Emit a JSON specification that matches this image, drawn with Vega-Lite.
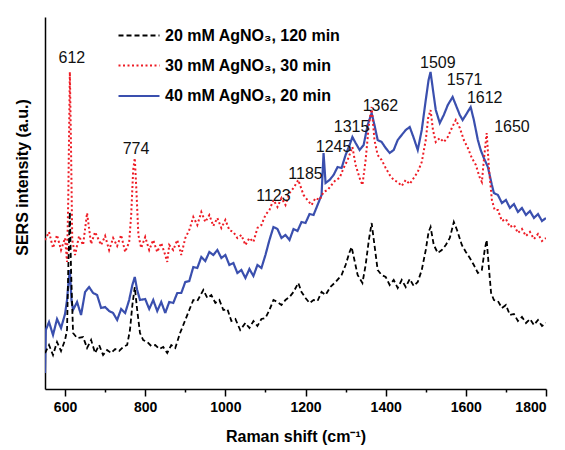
{
  "$schema": "https://vega.github.io/schema/vega-lite/v6.json",
  "width": 501,
  "height": 372,
  "autosize": {"type": "none"},
  "padding": {"left": 45, "top": 17, "right": 19, "bottom": 61},
  "config": {
    "font": "Liberation Sans",
    "view": {"stroke": null},
    "axis": {"grid": false}
  },
  "datasets": {
    "spectra": [
      {"w":550,"v":16,"s":"C"},{"w":552,"v":59,"s":"C"},{"w":560,"v":67,"s":"C"},{"w":570,"v":54,"s":"C"},{"w":580,"v":70,"s":"C"},{"w":590,"v":61,"s":"C"},{"w":600,"v":75,"s":"C"},{"w":605,"v":89,"s":"C"},{"w":608,"v":104,"s":"C"},{"w":612,"v":119,"s":"C"},{"w":616,"v":89,"s":"C"},{"w":620,"v":79,"s":"C"},{"w":630,"v":87,"s":"C"},{"w":640,"v":74,"s":"C"},{"w":650,"v":97,"s":"C"},{"w":660,"v":102,"s":"C"},{"w":670,"v":96,"s":"C"},{"w":680,"v":94,"s":"C"},{"w":690,"v":81,"s":"C"},{"w":700,"v":82,"s":"C"},{"w":710,"v":78,"s":"C"},{"w":720,"v":76,"s":"C"},{"w":730,"v":69,"s":"C"},{"w":740,"v":80,"s":"C"},{"w":750,"v":76,"s":"C"},{"w":760,"v":89,"s":"C"},{"w":768,"v":104,"s":"C"},{"w":774,"v":112,"s":"C"},{"w":780,"v":99,"s":"C"},{"w":787,"v":89,"s":"C"},{"w":800,"v":90,"s":"C"},{"w":810,"v":80,"s":"C"},{"w":820,"v":89,"s":"C"},{"w":830,"v":78,"s":"C"},{"w":840,"v":87,"s":"C"},{"w":850,"v":76,"s":"C"},{"w":860,"v":87,"s":"C"},{"w":870,"v":86,"s":"C"},{"w":880,"v":96,"s":"C"},{"w":890,"v":96,"s":"C"},{"w":900,"v":107,"s":"C"},{"w":910,"v":108,"s":"C"},{"w":920,"v":122,"s":"C"},{"w":930,"v":121,"s":"C"},{"w":940,"v":132,"s":"C"},{"w":950,"v":128,"s":"C"},{"w":960,"v":137,"s":"C"},{"w":970,"v":134,"s":"C"},{"w":980,"v":139,"s":"C"},{"w":990,"v":131,"s":"C"},{"w":1000,"v":134,"s":"C"},{"w":1010,"v":124,"s":"C"},{"w":1020,"v":126,"s":"C"},{"w":1030,"v":116,"s":"C"},{"w":1040,"v":119,"s":"C"},{"w":1050,"v":111,"s":"C"},{"w":1060,"v":120,"s":"C"},{"w":1070,"v":113,"s":"C"},{"w":1080,"v":124,"s":"C"},{"w":1090,"v":121,"s":"C"},{"w":1100,"v":134,"s":"C"},{"w":1110,"v":149,"s":"C"},{"w":1120,"v":162,"s":"C"},{"w":1130,"v":160,"s":"C"},{"w":1140,"v":151,"s":"C"},{"w":1150,"v":154,"s":"C"},{"w":1160,"v":149,"s":"C"},{"w":1170,"v":160,"s":"C"},{"w":1180,"v":158,"s":"C"},{"w":1190,"v":167,"s":"C"},{"w":1200,"v":166,"s":"C"},{"w":1210,"v":175,"s":"C"},{"w":1220,"v":174,"s":"C"},{"w":1230,"v":184,"s":"C"},{"w":1240,"v":194,"s":"C"},{"w":1245,"v":236,"s":"C"},{"w":1250,"v":206,"s":"C"},{"w":1260,"v":209,"s":"C"},{"w":1270,"v":214,"s":"C"},{"w":1280,"v":222,"s":"C"},{"w":1290,"v":221,"s":"C"},{"w":1300,"v":234,"s":"C"},{"w":1310,"v":244,"s":"C"},{"w":1317,"v":252,"s":"C"},{"w":1325,"v":246,"s":"C"},{"w":1335,"v":239,"s":"C"},{"w":1345,"v":244,"s":"C"},{"w":1355,"v":264,"s":"C"},{"w":1365,"v":276,"s":"C"},{"w":1372,"v":264,"s":"C"},{"w":1380,"v":249,"s":"C"},{"w":1390,"v":247,"s":"C"},{"w":1400,"v":241,"s":"C"},{"w":1410,"v":236,"s":"C"},{"w":1420,"v":239,"s":"C"},{"w":1430,"v":249,"s":"C"},{"w":1440,"v":254,"s":"C"},{"w":1450,"v":259,"s":"C"},{"w":1460,"v":262,"s":"C"},{"w":1470,"v":251,"s":"C"},{"w":1480,"v":239,"s":"C"},{"w":1490,"v":259,"s":"C"},{"w":1500,"v":289,"s":"C"},{"w":1507,"v":309,"s":"C"},{"w":1512,"v":317,"s":"C"},{"w":1518,"v":299,"s":"C"},{"w":1525,"v":279,"s":"C"},{"w":1535,"v":266,"s":"C"},{"w":1545,"v":274,"s":"C"},{"w":1555,"v":284,"s":"C"},{"w":1567,"v":292,"s":"C"},{"w":1575,"v":284,"s":"C"},{"w":1585,"v":274,"s":"C"},{"w":1592,"v":269,"s":"C"},{"w":1600,"v":274,"s":"C"},{"w":1612,"v":282,"s":"C"},{"w":1620,"v":269,"s":"C"},{"w":1630,"v":249,"s":"C"},{"w":1637,"v":239,"s":"C"},{"w":1645,"v":231,"s":"C"},{"w":1655,"v":222,"s":"C"},{"w":1665,"v":204,"s":"C"},{"w":1670,"v":196,"s":"C"},{"w":1680,"v":194,"s":"C"},{"w":1690,"v":186,"s":"C"},{"w":1700,"v":189,"s":"C"},{"w":1710,"v":181,"s":"C"},{"w":1720,"v":185,"s":"C"},{"w":1730,"v":177,"s":"C"},{"w":1740,"v":181,"s":"C"},{"w":1750,"v":174,"s":"C"},{"w":1760,"v":178,"s":"C"},{"w":1770,"v":171,"s":"C"},{"w":1780,"v":175,"s":"C"},{"w":1790,"v":168,"s":"C"},{"w":1800,"v":171,"s":"C"},

      {"w":550,"v":149,"s":"B"},{"w":560,"v":157,"s":"B"},{"w":570,"v":141,"s":"B"},{"w":580,"v":154,"s":"B"},{"w":590,"v":139,"s":"B"},{"w":600,"v":151,"s":"B"},{"w":605,"v":127,"s":"B"},{"w":608,"v":189,"s":"B"},{"w":612,"v":317,"s":"B"},{"w":615,"v":239,"s":"B"},{"w":618,"v":149,"s":"B"},{"w":625,"v":134,"s":"B"},{"w":635,"v":153,"s":"B"},{"w":645,"v":144,"s":"B"},{"w":655,"v":176,"s":"B"},{"w":665,"v":145,"s":"B"},{"w":675,"v":157,"s":"B"},{"w":690,"v":144,"s":"B"},{"w":700,"v":153,"s":"B"},{"w":710,"v":139,"s":"B"},{"w":720,"v":151,"s":"B"},{"w":730,"v":143,"s":"B"},{"w":740,"v":154,"s":"B"},{"w":750,"v":137,"s":"B"},{"w":760,"v":147,"s":"B"},{"w":765,"v":174,"s":"B"},{"w":770,"v":219,"s":"B"},{"w":774,"v":231,"s":"B"},{"w":778,"v":199,"s":"B"},{"w":783,"v":154,"s":"B"},{"w":790,"v":141,"s":"B"},{"w":800,"v":152,"s":"B"},{"w":810,"v":139,"s":"B"},{"w":820,"v":149,"s":"B"},{"w":830,"v":137,"s":"B"},{"w":840,"v":146,"s":"B"},{"w":850,"v":134,"s":"B"},{"w":855,"v":127,"s":"B"},{"w":860,"v":144,"s":"B"},{"w":870,"v":139,"s":"B"},{"w":880,"v":149,"s":"B"},{"w":890,"v":134,"s":"B"},{"w":900,"v":151,"s":"B"},{"w":910,"v":159,"s":"B"},{"w":920,"v":172,"s":"B"},{"w":930,"v":164,"s":"B"},{"w":940,"v":177,"s":"B"},{"w":950,"v":167,"s":"B"},{"w":960,"v":174,"s":"B"},{"w":970,"v":163,"s":"B"},{"w":980,"v":171,"s":"B"},{"w":990,"v":161,"s":"B"},{"w":1000,"v":169,"s":"B"},{"w":1010,"v":159,"s":"B"},{"w":1020,"v":157,"s":"B"},{"w":1030,"v":151,"s":"B"},{"w":1040,"v":154,"s":"B"},{"w":1050,"v":144,"s":"B"},{"w":1060,"v":151,"s":"B"},{"w":1070,"v":147,"s":"B"},{"w":1080,"v":161,"s":"B"},{"w":1090,"v":164,"s":"B"},{"w":1100,"v":174,"s":"B"},{"w":1110,"v":179,"s":"B"},{"w":1120,"v":189,"s":"B"},{"w":1130,"v":182,"s":"B"},{"w":1140,"v":191,"s":"B"},{"w":1150,"v":184,"s":"B"},{"w":1160,"v":196,"s":"B"},{"w":1170,"v":201,"s":"B"},{"w":1182,"v":209,"s":"B"},{"w":1195,"v":194,"s":"B"},{"w":1205,"v":189,"s":"B"},{"w":1215,"v":184,"s":"B"},{"w":1225,"v":191,"s":"B"},{"w":1235,"v":189,"s":"B"},{"w":1245,"v":197,"s":"B"},{"w":1255,"v":199,"s":"B"},{"w":1265,"v":204,"s":"B"},{"w":1275,"v":209,"s":"B"},{"w":1285,"v":211,"s":"B"},{"w":1295,"v":221,"s":"B"},{"w":1305,"v":229,"s":"B"},{"w":1317,"v":242,"s":"B"},{"w":1325,"v":224,"s":"B"},{"w":1335,"v":211,"s":"B"},{"w":1342,"v":204,"s":"B"},{"w":1350,"v":229,"s":"B"},{"w":1358,"v":264,"s":"B"},{"w":1365,"v":282,"s":"B"},{"w":1372,"v":249,"s":"B"},{"w":1380,"v":234,"s":"B"},{"w":1390,"v":229,"s":"B"},{"w":1400,"v":221,"s":"B"},{"w":1410,"v":214,"s":"B"},{"w":1420,"v":209,"s":"B"},{"w":1430,"v":207,"s":"B"},{"w":1440,"v":203,"s":"B"},{"w":1450,"v":209,"s":"B"},{"w":1460,"v":205,"s":"B"},{"w":1470,"v":211,"s":"B"},{"w":1480,"v":217,"s":"B"},{"w":1490,"v":227,"s":"B"},{"w":1500,"v":249,"s":"B"},{"w":1506,"v":271,"s":"B"},{"w":1512,"v":279,"s":"B"},{"w":1518,"v":259,"s":"B"},{"w":1525,"v":247,"s":"B"},{"w":1535,"v":251,"s":"B"},{"w":1545,"v":247,"s":"B"},{"w":1555,"v":252,"s":"B"},{"w":1565,"v":261,"s":"B"},{"w":1575,"v":269,"s":"B"},{"w":1585,"v":261,"s":"B"},{"w":1595,"v":249,"s":"B"},{"w":1605,"v":241,"s":"B"},{"w":1615,"v":231,"s":"B"},{"w":1625,"v":224,"s":"B"},{"w":1635,"v":211,"s":"B"},{"w":1640,"v":207,"s":"B"},{"w":1645,"v":229,"s":"B"},{"w":1652,"v":256,"s":"B"},{"w":1658,"v":219,"s":"B"},{"w":1665,"v":189,"s":"B"},{"w":1672,"v":179,"s":"B"},{"w":1680,"v":179,"s":"B"},{"w":1690,"v":168,"s":"B"},{"w":1700,"v":170,"s":"B"},{"w":1710,"v":162,"s":"B"},{"w":1720,"v":164,"s":"B"},{"w":1730,"v":156,"s":"B"},{"w":1740,"v":160,"s":"B"},{"w":1750,"v":153,"s":"B"},{"w":1760,"v":157,"s":"B"},{"w":1770,"v":150,"s":"B"},{"w":1780,"v":155,"s":"B"},{"w":1790,"v":148,"s":"B"},{"w":1800,"v":151,"s":"B"},

      {"w":550,"v":36,"s":"A"},{"w":560,"v":44,"s":"A"},{"w":570,"v":34,"s":"A"},{"w":580,"v":47,"s":"A"},{"w":590,"v":38,"s":"A"},{"w":600,"v":49,"s":"A"},{"w":605,"v":59,"s":"A"},{"w":608,"v":119,"s":"A"},{"w":612,"v":177,"s":"A"},{"w":615,"v":119,"s":"A"},{"w":620,"v":56,"s":"A"},{"w":630,"v":51,"s":"A"},{"w":645,"v":52,"s":"A"},{"w":655,"v":41,"s":"A"},{"w":665,"v":49,"s":"A"},{"w":675,"v":36,"s":"A"},{"w":685,"v":44,"s":"A"},{"w":695,"v":34,"s":"A"},{"w":705,"v":39,"s":"A"},{"w":715,"v":36,"s":"A"},{"w":725,"v":40,"s":"A"},{"w":735,"v":38,"s":"A"},{"w":745,"v":42,"s":"A"},{"w":755,"v":44,"s":"A"},{"w":762,"v":59,"s":"A"},{"w":768,"v":84,"s":"A"},{"w":774,"v":102,"s":"A"},{"w":780,"v":79,"s":"A"},{"w":787,"v":56,"s":"A"},{"w":795,"v":49,"s":"A"},{"w":805,"v":47,"s":"A"},{"w":815,"v":43,"s":"A"},{"w":825,"v":44,"s":"A"},{"w":835,"v":40,"s":"A"},{"w":845,"v":42,"s":"A"},{"w":855,"v":36,"s":"A"},{"w":865,"v":44,"s":"A"},{"w":875,"v":41,"s":"A"},{"w":887,"v":56,"s":"A"},{"w":900,"v":69,"s":"A"},{"w":910,"v":79,"s":"A"},{"w":920,"v":89,"s":"A"},{"w":930,"v":88,"s":"A"},{"w":945,"v":99,"s":"A"},{"w":955,"v":91,"s":"A"},{"w":965,"v":94,"s":"A"},{"w":975,"v":86,"s":"A"},{"w":985,"v":89,"s":"A"},{"w":995,"v":79,"s":"A"},{"w":1005,"v":80,"s":"A"},{"w":1015,"v":68,"s":"A"},{"w":1025,"v":70,"s":"A"},{"w":1037,"v":59,"s":"A"},{"w":1050,"v":66,"s":"A"},{"w":1060,"v":61,"s":"A"},{"w":1070,"v":68,"s":"A"},{"w":1080,"v":63,"s":"A"},{"w":1090,"v":70,"s":"A"},{"w":1100,"v":71,"s":"A"},{"w":1110,"v":79,"s":"A"},{"w":1120,"v":89,"s":"A"},{"w":1130,"v":87,"s":"A"},{"w":1140,"v":84,"s":"A"},{"w":1150,"v":89,"s":"A"},{"w":1160,"v":92,"s":"A"},{"w":1170,"v":97,"s":"A"},{"w":1182,"v":106,"s":"A"},{"w":1190,"v":97,"s":"A"},{"w":1200,"v":91,"s":"A"},{"w":1210,"v":86,"s":"A"},{"w":1220,"v":89,"s":"A"},{"w":1230,"v":88,"s":"A"},{"w":1240,"v":97,"s":"A"},{"w":1250,"v":94,"s":"A"},{"w":1262,"v":102,"s":"A"},{"w":1275,"v":107,"s":"A"},{"w":1290,"v":114,"s":"A"},{"w":1300,"v":124,"s":"A"},{"w":1310,"v":137,"s":"A"},{"w":1315,"v":142,"s":"A"},{"w":1322,"v":129,"s":"A"},{"w":1330,"v":114,"s":"A"},{"w":1342,"v":106,"s":"A"},{"w":1350,"v":124,"s":"A"},{"w":1358,"v":149,"s":"A"},{"w":1365,"v":166,"s":"A"},{"w":1372,"v":144,"s":"A"},{"w":1380,"v":119,"s":"A"},{"w":1390,"v":114,"s":"A"},{"w":1400,"v":112,"s":"A"},{"w":1410,"v":104,"s":"A"},{"w":1420,"v":109,"s":"A"},{"w":1430,"v":101,"s":"A"},{"w":1440,"v":109,"s":"A"},{"w":1450,"v":102,"s":"A"},{"w":1460,"v":110,"s":"A"},{"w":1470,"v":103,"s":"A"},{"w":1480,"v":107,"s":"A"},{"w":1490,"v":119,"s":"A"},{"w":1500,"v":139,"s":"A"},{"w":1507,"v":157,"s":"A"},{"w":1512,"v":162,"s":"A"},{"w":1520,"v":144,"s":"A"},{"w":1530,"v":136,"s":"A"},{"w":1540,"v":139,"s":"A"},{"w":1550,"v":144,"s":"A"},{"w":1560,"v":151,"s":"A"},{"w":1570,"v":167,"s":"A"},{"w":1578,"v":159,"s":"A"},{"w":1590,"v":144,"s":"A"},{"w":1600,"v":137,"s":"A"},{"w":1610,"v":131,"s":"A"},{"w":1620,"v":124,"s":"A"},{"w":1630,"v":116,"s":"A"},{"w":1640,"v":119,"s":"A"},{"w":1647,"v":139,"s":"A"},{"w":1652,"v":149,"s":"A"},{"w":1658,"v":119,"s":"A"},{"w":1663,"v":96,"s":"A"},{"w":1670,"v":89,"s":"A"},{"w":1680,"v":88,"s":"A"},{"w":1690,"v":81,"s":"A"},{"w":1700,"v":84,"s":"A"},{"w":1710,"v":74,"s":"A"},{"w":1720,"v":75,"s":"A"},{"w":1730,"v":68,"s":"A"},{"w":1740,"v":72,"s":"A"},{"w":1750,"v":66,"s":"A"},{"w":1760,"v":70,"s":"A"},{"w":1770,"v":64,"s":"A"},{"w":1780,"v":69,"s":"A"},{"w":1790,"v":63,"s":"A"},{"w":1800,"v":66,"s":"A"}
    ],
    "peaks": [
      {"w":617,"v":331,"t":"612"},{"w":777,"v":240,"t":"774"},{"w":1120,"v":193,"t":"1123"},{"w":1200,"v":215,"t":"1185"},{"w":1270,"v":242,"t":"1245"},{"w":1315,"v":262,"t":"1315"},{"w":1387,"v":283,"t":"1362"},{"w":1530,"v":326,"t":"1509"},{"w":1597,"v":309,"t":"1571"},{"w":1647,"v":291,"t":"1612"},{"w":1715,"v":262,"t":"1650"}
    ]
  },
  "layer": [
    {
      "data": {"name": "spectra"},
      "mark": {"type": "line", "clip": true},
      "encoding": {
        "x": {"field": "w", "type": "quantitative",
          "scale": {"domain": [550, 1800], "nice": false, "zero": false},
          "axis": {"orient": "bottom", "values": [600, 700, 800, 900, 1000, 1100, 1200, 1300, 1400, 1500, 1600, 1700, 1800],
            "labelExpr": "datum.value % 200 == 0 ? datum.label : ''", "format": "d",
            "tickSize": {"condition": {"test": "datum.value % 200 == 0", "value": 7}, "value": 3},
            "tickWidth": 1.5, "tickColor": "#000", "domainColor": "#000", "domainWidth": 1.5, "labelFontSize": 14, "labelFontWeight": "bold", "labelColor": "#000", "labelPadding": 4, "labelOverlap": false, "title": "Raman shift (cm⁻¹)", "titleFontSize": 16, "titleFontWeight": "bold", "titleColor": "#000", "titlePadding": 14}},
        "y": {"field": "v", "type": "quantitative",
          "scale": {"domain": [0, 372], "nice": false, "zero": false},
          "axis": {"ticks": false, "labels": false, "domainColor": "#000", "domainWidth": 1.5, "title": "SERS intensity (a.u.)", "titleFontSize": 16, "titleFontWeight": "bold", "titleColor": "#000", "titleX": -23, "titleY": 160, "titleBaseline": "middle"}},
        "color": {"field": "s", "type": "nominal",
          "scale": {"domain": ["A", "B", "C"], "range": ["#000000", "#ee1c25", "#3a4fae"]},
          "legend": {"orient": "none", "legendX": 72, "legendY": -3, "title": null, "symbolType": "stroke", "symbolSize": 1681, "labelFontSize": 16, "labelFontWeight": "bold", "labelColor": "#000", "labelOffset": 4, "labelLimit": 400, "rowPadding": 0,
            "labelExpr": "datum.value == 'A' ? '20 mM AgNO₃, 120 min' : datum.value == 'B' ? '30 mM AgNO₃, 30 min' : '40 mM AgNO₃, 20 min'"}},
        "strokeDash": {"field": "s", "type": "nominal",
          "scale": {"domain": ["A", "B", "C"], "range": [[5, 3], [2, 2.5], [1, 0]]}, "legend": null},
        "strokeWidth": {"field": "s", "type": "nominal",
          "scale": {"domain": ["A", "B", "C"], "range": [1.8, 2.2, 1.3]}, "legend": null}
      }
    },
    {
      "data": {"name": "peaks"},
      "mark": {"type": "text", "fontSize": 16, "color": "#111", "baseline": "middle"},
      "encoding": {
        "x": {"field": "w", "type": "quantitative"},
        "y": {"field": "v", "type": "quantitative"},
        "text": {"field": "t"}
      }
    }
  ]
}
